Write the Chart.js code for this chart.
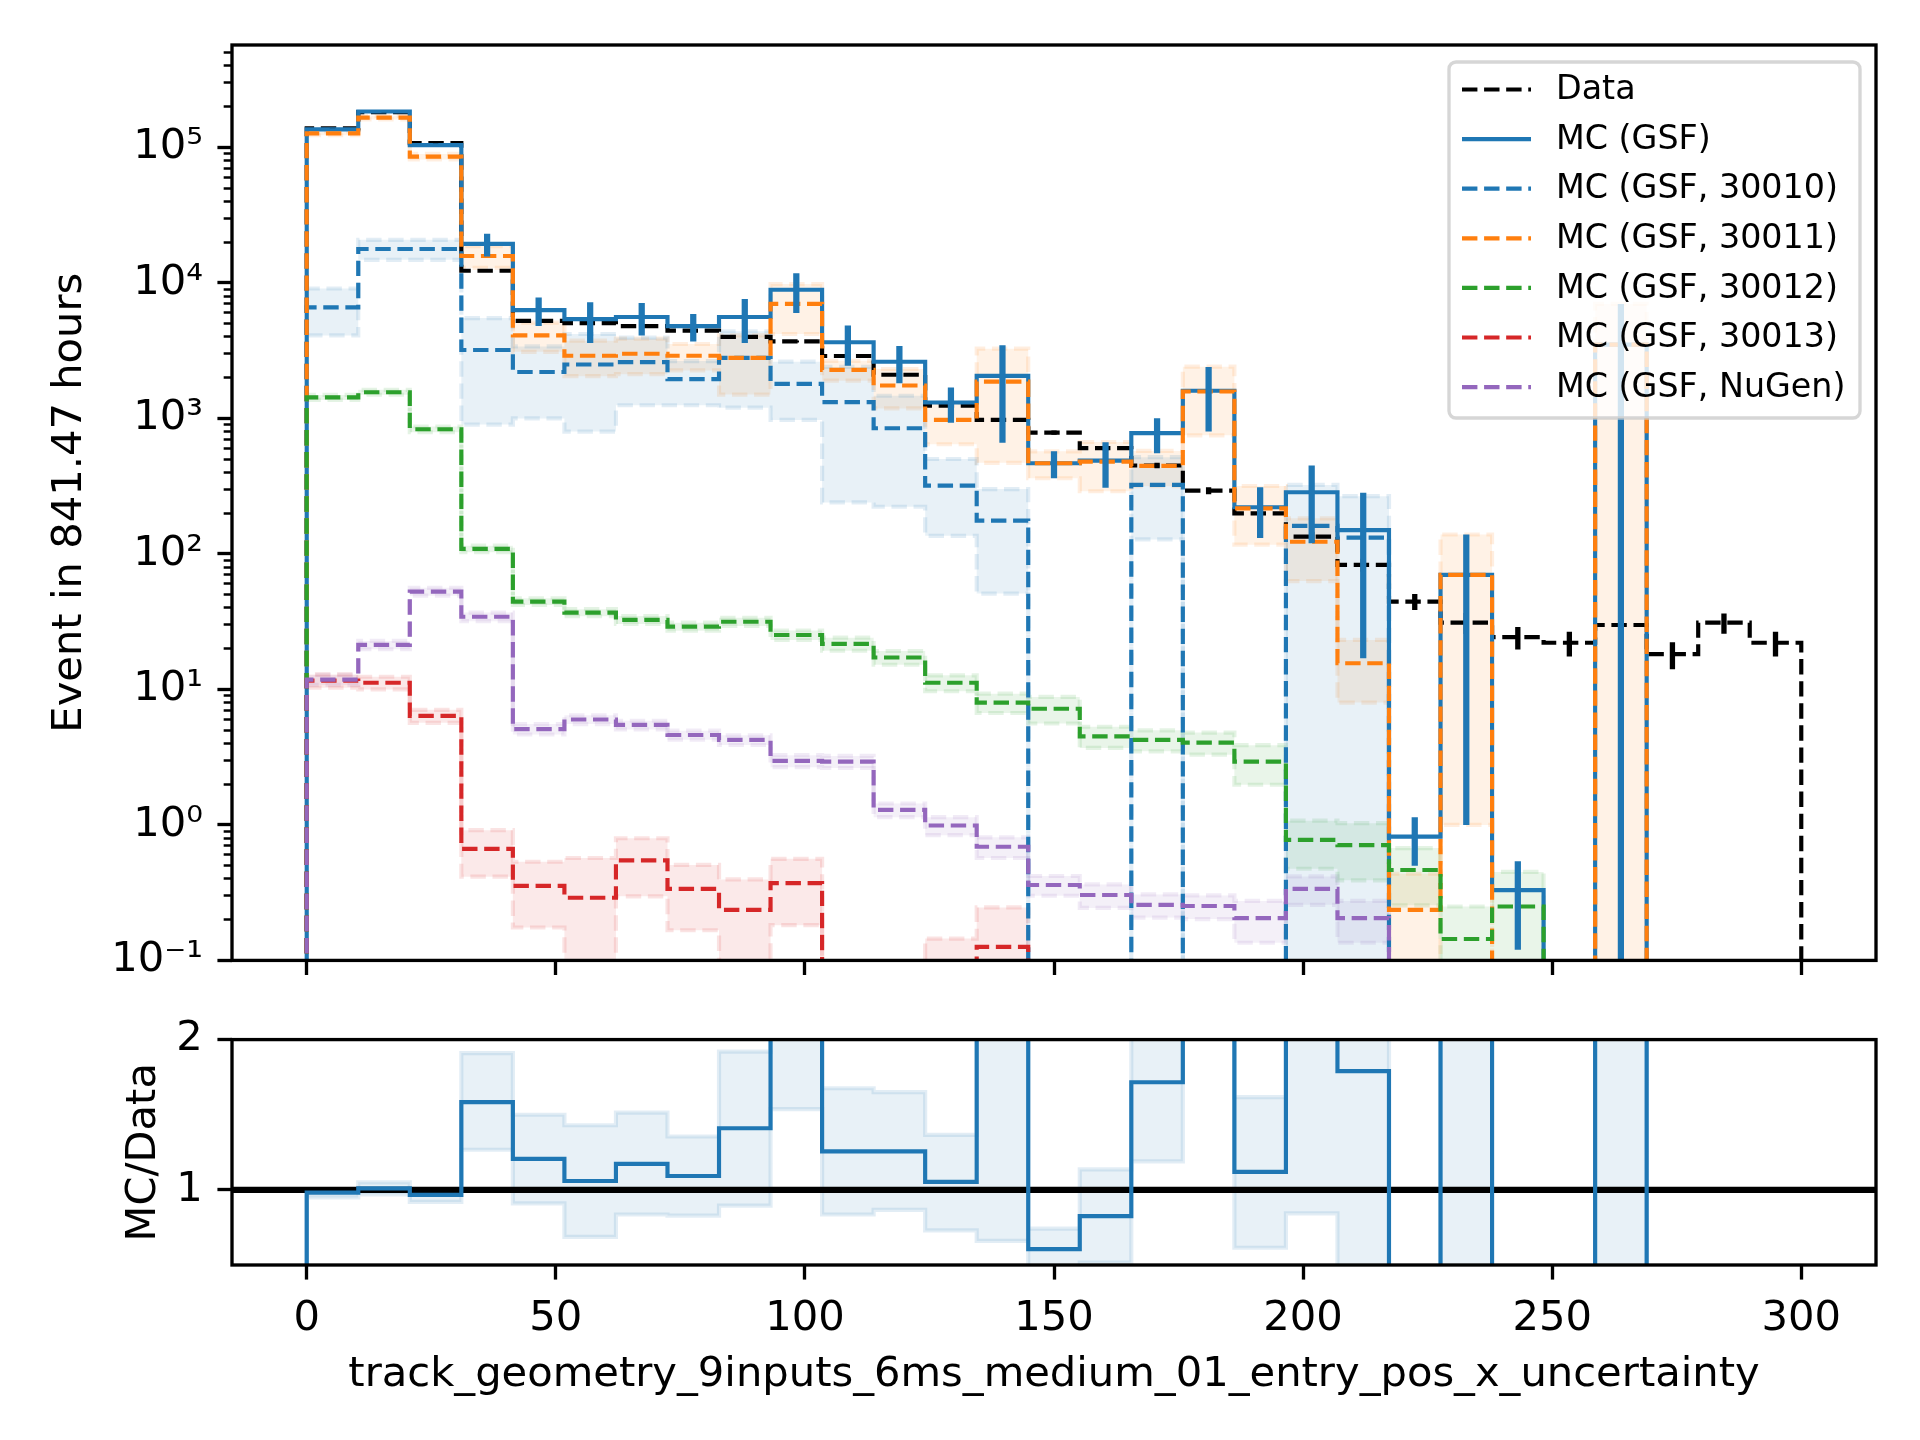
<!DOCTYPE html>
<html><head><meta charset="utf-8">
<script src="https://cdn.jsdelivr.net/npm/chart.js@4.4.1/dist/chart.umd.min.js"></script>
<style>
html,body{margin:0;padding:0;background:#fff;width:1920px;height:1440px;overflow:hidden}
canvas{position:absolute;left:0}
#main{top:0}
#ratio{top:1000px}
</style></head><body>
<canvas id="main" width="1920" height="1000"></canvas>
<canvas id="ratio" width="1920" height="440"></canvas>
<script>
// ---------------- data ----------------
const binEdges = [0, 10.345, 20.690, 31.034, 41.379, 51.724, 62.069, 72.414, 82.759, 93.103,
  103.448, 113.793, 124.138, 134.483, 144.828, 155.172, 165.517, 175.862, 186.207, 196.552,
  206.897, 217.241, 227.586, 237.931, 248.276, 258.621, 268.966, 279.310, 289.655, 300];

const dataCounts = [1.385e5, 1.82e5, 1.075e5, 1.23e4, 5250, 5050, 4800, 4450, 4000, 3700,
  2890, 2100, 1240, 975, 785, 603, 449, 293, 199, 134,
  83, 44.5, 31.1, 24.3, 22.1, 29.9, 18.2, 31.1, 22.1];
const dataErr = [370, 425, 330, 111, 72, 71, 69, 67, 63, 61,
  54, 46, 35, 31, 28, 25, 21, 17, 14, 11.6,
  9.1, 6, 5.5, 4.6, 4.6, 5.4, 4.1, 5.3, 4.6];

const mcTotal = [1.36e5, 1.84e5, 1.04e5, 1.94e4, 6300, 5400, 5600, 4800, 5600, 8900,
  3650, 2620, 1310, 2060, 467, 488, 778, 1600, 221, 285,
  150, 0.82, 70, 0.33, 0, 3500, 0, 0, 0];
const mcTotalErr = [2500, 3000, 2500, 3700, 1500, 1800, 1500, 1100, 2000, 2900,
  1200, 800, 380, 1400, 105, 180, 225, 800, 90, 165,
  133, 0.32, 69, 0.21, 0, 3500, 0, 0, 0];

const mc30010 = [6600, 1.78e4, 1.78e4, 3200, 2200, 2500, 2600, 1950, 2800, 1800,
  1320, 846, 319, 176, 0, 0, 323, 0, 0, 161,
  132, 0, 0, 0, 0, 0, 0, 0, 0];
const mc30010Err = [2500, 3000, 3000, 2300, 1200, 1700, 1350, 700, 1600, 825,
  1080, 623, 183, 125, 0, 0, 195, 0, 0, 162,
  135, 0, 0, 0, 0, 0, 0, 0, 0];

const mc30011 = [1.27e5, 1.66e5, 8.55e4, 1.58e4, 4100, 2900, 3000, 2900, 2800, 7000,
  2280, 1750, 975, 1870, 467, 480, 446, 1580, 217, 123,
  15.6, 0.236, 70, 0, 0, 3500, 0, 0, 0];
const mc30011Err = [4000, 5000, 4000, 2900, 1000, 850, 880, 640, 1300, 2800,
  380, 565, 330, 1400, 105, 190, 130, 830, 100, 60,
  7.6, 0.2, 69, 0, 0, 3500, 0, 0, 0];

const mc30012 = [1430, 1560, 832, 109, 44.5, 36.9, 32.6, 29.1, 31.6, 25.2,
  21.7, 17.2, 11.2, 8.0, 7.2, 4.5, 4.24, 4.05, 2.93, 0.775,
  0.71, 0.465, 0.144, 0.25, 0, 0, 0, 0, 0];
const mc30012Err = [60, 65, 40, 6, 2.5, 2.2, 2.2, 2.0, 2.2, 2.0,
  2.4, 2.0, 1.5, 1.3, 1.6, 0.8, 0.75, 0.75, 0.95, 0.3,
  0.32, 0.21, 0.106, 0.2, 0, 0, 0, 0, 0];

const mc30013 = [11.6, 11.2, 6.37, 0.665, 0.355, 0.29, 0.547, 0.337, 0.236, 0.372,
  0, 0, 0.06, 0.126, 0, 0, 0, 0, 0, 0,
  0, 0, 0, 0, 0, 0, 0, 0, 0];
const mc30013Err = [1.3, 1.2, 0.7, 0.25, 0.18, 0.28, 0.25, 0.17, 0.16, 0.19,
  0, 0, 0.085, 0.12, 0, 0, 0, 0, 0, 0,
  0, 0, 0, 0, 0, 0, 0, 0, 0];

const mcNuGen = [11.8, 21.3, 52.7, 34.4, 5.1, 6.0, 5.47, 4.61, 4.24, 2.97,
  2.93, 1.29, 0.99, 0.69, 0.36, 0.304, 0.257, 0.252, 0.205, 0.337,
  0.205, 0, 0, 0, 0, 0, 0, 0, 0];
const mcNuGenErr = [1.0, 1.5, 3.5, 2.5, 0.45, 0.45, 0.4, 0.35, 0.35, 0.3,
  0.3, 0.15, 0.15, 0.12, 0.06, 0.06, 0.05, 0.05, 0.07, 0.08,
  0.07, 0, 0, 0, 0, 0, 0, 0, 0];

const ratioValues = [0.982, 1.01, 0.967, 1.584, 1.206, 1.059, 1.173, 1.092, 1.41, 2.4,
  1.256, 1.256, 1.053, 2.11, 0.606, 0.825, 1.716, 5.46, 1.12, 2.13,
  1.79, 0.018, 2.25, 0.014, 0, 117, 0, 0, 0];
const ratioLow = [0.95, 0.97, 0.92, 1.267, 0.91, 0.687, 0.836, 0.829, 0.895, 1.537,
  0.836, 0.867, 0.73, 0.66, 0.47, 0.516, 1.19, 2.7, 0.615, 0.844,
  0.19, 0.018, 0.03, 0.014, 0, 0, 0, 0, 0];
const ratioHigh = [1.0, 1.05, 1.0, 1.91, 1.50, 1.43, 1.514, 1.355, 1.92, 3.2,
  1.676, 1.65, 1.366, 3.5, 0.742, 1.136, 2.24, 8.2, 1.617, 3.3,
  3.4, 0.018, 4.5, 0.014, 0, 234, 0, 0, 0];

const xTickValues = [0, 50, 100, 150, 200, 250, 300];
const yMajorTicks = [0.1, 1, 10, 100, 1000, 10000, 100000];
const ratioTickValues = [1, 2];

const seriesLabels = ['Data', 'MC (GSF)', 'MC (GSF, 30010)', 'MC (GSF, 30011)',
  'MC (GSF, 30012)', 'MC (GSF, 30013)', 'MC (GSF, NuGen)'];
const xTitle = 'track_geometry_9inputs_6ms_medium_01_entry_pos_x_uncertainty';
const yTitle = 'Event in 841.47 hours';
const ratioTitle = 'MC/Data';

// ---------------- styling ----------------
const C = {black:'#000000', blue:'#1f77b4', orange:'#ff7f0e', green:'#2ca02c', red:'#d62728', purple:'#9467bd'};
const rgba = (hex, a) => { const n = parseInt(hex.slice(1), 16); return `rgba(${n>>16&255},${n>>8&255},${n&255},${a})`; };
const PT = 300/72;
const LW = 1.0*PT, EW = 1.5*PT;
const DASH = [3.7*PT, 1.6*PT];
const FS = 10*PT, LFS = 8*PT;
const FLOOR = 1e-6;
const YMIN = 0.1, YMAX = 5.7e5;

Chart.defaults.font.family = "'DejaVu Sans'";
Chart.defaults.font.size = FS;
Chart.defaults.color = '#000';

function stepPts(vals, floor) {
  const pts = [{x: binEdges[0], y: floor}];
  vals.forEach((v, i) => {
    const y = v > 0 ? v : floor;
    pts.push({x: binEdges[i], y}, {x: binEdges[i+1], y});
  });
  pts.push({x: binEdges[binEdges.length-1], y: floor});
  return pts;
}
function errPts(vals, errs, floor) {
  const pts = [];
  vals.forEach((v, i) => {
    if (v > 0 && errs[i] > 0) {
      const c = (binEdges[i] + binEdges[i+1]) / 2;
      pts.push({x: c, y: Math.max(v - errs[i], floor)}, {x: c, y: v + errs[i]}, {x: c, y: null});
    }
  });
  return pts;
}
function lineDS(data, color, width, dash, order) {
  return {data, borderColor: color, borderWidth: width, borderDash: dash || [], pointRadius: 0,
    fill: false, tension: 0, order, borderJoinStyle: 'miter', borderCapStyle: 'butt', spanGaps: false};
}
function bandFromBounds(lowVals, highVals, color, order, floor, dashed) {
  const edge = rgba(color, 0.13);
  return [
    lineDS(stepPts(lowVals, floor), edge, LW, dashed ? DASH : [], order),
    Object.assign(lineDS(stepPts(highVals, floor), edge, LW, dashed ? DASH : [], order),
      {fill: '-1', backgroundColor: rgba(color, 0.1)})
  ];
}
function bandDS(vals, errs, color, order, floor, dashed) {
  return bandFromBounds(vals.map((v, i) => Math.max(v - errs[i], 0)), vals.map((v, i) => v + errs[i]),
    color, order, floor, dashed);
}

const supMap = {'-':'\u207B','0':'\u2070','1':'\u00B9','2':'\u00B2','3':'\u00B3','4':'\u2074','5':'\u2075','6':'\u2076','7':'\u2077','8':'\u2078','9':'\u2079'};
const sup = s => String(s).split('').map(ch => supMap[ch] || ch).join('');

const minorTicks = [];
for (let e = -1; e <= 5; e++) for (let k = 2; k <= 9; k++) { const v = k * Math.pow(10, e); if (v < YMAX) minorTicks.push(v); }

const framePlugin = {
  id: 'frame',
  afterDatasetsDraw(chart) {
    const {ctx, chartArea: a} = chart;
    ctx.save();
    ctx.strokeStyle = '#000'; ctx.lineWidth = 0.8*PT;
    ctx.strokeRect(a.left, a.top, a.right - a.left, a.bottom - a.top);
    ctx.restore();
  }
};

const legendEntries = [
  {color: C.black, dash: DASH}, {color: C.blue, dash: []}, {color: C.blue, dash: DASH},
  {color: C.orange, dash: DASH}, {color: C.green, dash: DASH}, {color: C.red, dash: DASH}, {color: C.purple, dash: DASH}
];
const legendPlugin = {
  id: 'mplLegend',
  afterDraw(chart) {
    const {ctx} = chart;
    const bx = 1449, by = 62, bw = 411, bh = 356, r = 7;
    ctx.save();
    ctx.beginPath();
    ctx.moveTo(bx + r, by); ctx.lineTo(bx + bw - r, by); ctx.arcTo(bx + bw, by, bx + bw, by + r, r);
    ctx.lineTo(bx + bw, by + bh - r); ctx.arcTo(bx + bw, by + bh, bx + bw - r, by + bh, r);
    ctx.lineTo(bx + r, by + bh); ctx.arcTo(bx, by + bh, bx, by + bh - r, r);
    ctx.lineTo(bx, by + r); ctx.arcTo(bx, by, bx + r, by, r); ctx.closePath();
    ctx.fillStyle = 'rgba(255,255,255,0.8)'; ctx.fill();
    ctx.strokeStyle = 'rgba(204,204,204,0.8)'; ctx.lineWidth = 0.8*PT; ctx.stroke();
    ctx.font = `${LFS}px 'DejaVu Sans'`; ctx.textBaseline = 'middle'; ctx.textAlign = 'left';
    seriesLabels.forEach((lab, i) => {
      const y = 89.5 + i * 49.6;
      const e = legendEntries[i];
      ctx.beginPath(); ctx.setLineDash(e.dash); ctx.lineDashOffset = 0;
      ctx.strokeStyle = e.color; ctx.lineWidth = LW; ctx.lineCap = 'butt';
      ctx.moveTo(1462, y); ctx.lineTo(1531, y); ctx.stroke();
      ctx.setLineDash([]);
      ctx.fillStyle = '#000'; ctx.fillText(lab, 1556, y + 1);
    });
    ctx.restore();
  }
};

// ---------------- main chart ----------------
const mainDatasets = [
  lineDS(errPts(mcTotal, mcTotalErr, FLOOR), C.blue, EW, [], 0),
  lineDS(errPts(dataCounts, dataErr, FLOOR), C.black, EW*0.85, [], 1),
  lineDS(stepPts(mcNuGen, FLOOR), C.purple, LW, DASH, 2),
  lineDS(stepPts(mc30013, FLOOR), C.red, LW, DASH, 3),
  lineDS(stepPts(mc30012, FLOOR), C.green, LW, DASH, 4),
  lineDS(stepPts(mc30011, FLOOR), C.orange, LW, DASH, 5),
  lineDS(stepPts(mc30010, FLOOR), C.blue, LW, DASH, 6),
  lineDS(stepPts(mcTotal, FLOOR), C.blue, LW, [], 7),
  lineDS(stepPts(dataCounts, FLOOR), C.black, LW, DASH, 8),
  ...bandDS(mc30010, mc30010Err, C.blue, 20, FLOOR, true),
  ...bandDS(mc30011, mc30011Err, C.orange, 21, FLOOR, true),
  ...bandDS(mc30012, mc30012Err, C.green, 22, FLOOR, true),
  ...bandDS(mc30013, mc30013Err, C.red, 23, FLOOR, true),
  ...bandDS(mcNuGen, mcNuGenErr, C.purple, 24, FLOOR, true),
];

new Chart(document.getElementById('main'), {
  type: 'line',
  data: {datasets: mainDatasets},
  options: {
    responsive: false, animation: false, devicePixelRatio: 1,
    layout: {padding: {left: 0, right: 44, top: 45, bottom: 0}},
    plugins: {legend: {display: false}, tooltip: {enabled: false}},
    scales: {
      x: {type: 'linear', min: -15, max: 315,
        afterBuildTicks: s => { s.ticks = xTickValues.map(v => ({value: v})); },
        ticks: {display: false},
        grid: {drawOnChartArea: false, drawTicks: true, tickLength: 3.5*PT, tickWidth: 0.8*PT, tickColor: '#000'},
        border: {display: false},
        afterFit: s => { s.height = 38; }},
      y: {type: 'logarithmic', min: YMIN, max: YMAX, position: 'left', weight: 10,
        afterBuildTicks: s => { s.ticks = yMajorTicks.map(v => ({value: v})); },
        ticks: {padding: 3.5*PT, color: '#000', font: {size: FS},
          callback: v => '10' + sup(Math.round(Math.log10(v)))},
        grid: {drawOnChartArea: false, tickLength: 3.5*PT, tickWidth: 0.8*PT, tickColor: '#000'},
        border: {display: false},
        title: {display: true, text: yTitle, color: '#000', font: {size: FS}, padding: {top: 45.5, bottom: 0}},
        afterFit: s => { s.width = 232; }},
      yMinor: {type: 'logarithmic', min: YMIN, max: YMAX, position: 'left', weight: 0,
        afterBuildTicks: s => { s.ticks = minorTicks.map(v => ({value: v})); },
        ticks: {display: false},
        grid: {drawOnChartArea: false, tickLength: 2*PT, tickWidth: 0.6*PT, tickColor: '#000'},
        border: {display: false},
        afterFit: s => { s.width = 0; }}
    }
  },
  plugins: [framePlugin, legendPlugin]
});

// ---------------- ratio chart ----------------
const ratioDatasets = [
  lineDS(stepPts(ratioValues, 0), C.blue, LW, [], 0),
  lineDS([{x: -15, y: 1}, {x: 315, y: 1}], C.black, EW, [], 1),
  ...bandFromBounds(ratioLow, ratioHigh, C.blue, 10, 0, false)
];

new Chart(document.getElementById('ratio'), {
  type: 'line',
  data: {datasets: ratioDatasets},
  options: {
    responsive: false, animation: false, devicePixelRatio: 1,
    layout: {padding: {left: 0, right: 44, top: 36, bottom: 0}},
    plugins: {legend: {display: false}, tooltip: {enabled: false}},
    scales: {
      x: {type: 'linear', min: -15, max: 315,
        afterBuildTicks: s => { s.ticks = xTickValues.map(v => ({value: v})); },
        ticks: {padding: 3.5*PT, color: '#000', font: {size: FS}, maxRotation: 0, callback: v => String(v)},
        grid: {drawOnChartArea: false, drawTicks: true, tickLength: 3.5*PT, tickWidth: 0.8*PT, tickColor: '#000'},
        border: {display: false},
        title: {display: true, text: xTitle, color: '#000', font: {size: FS}, padding: {top: 0, bottom: 40}},
        afterFit: s => { s.height = 175; }},
      y: {type: 'linear', min: 0.5, max: 2, position: 'left',
        afterBuildTicks: s => { s.ticks = ratioTickValues.map(v => ({value: v})); },
        ticks: {padding: 3.5*PT, color: '#000', font: {size: FS}, callback: v => String(v)},
        grid: {drawOnChartArea: false, tickLength: 3.5*PT, tickWidth: 0.8*PT, tickColor: '#000'},
        border: {display: false},
        title: {display: true, text: ratioTitle, color: '#000', font: {size: FS}, padding: {top: 119, bottom: 0}},
        afterFit: s => { s.width = 232; }}
    }
  },
  plugins: [framePlugin]
});
</script>
</body></html>
